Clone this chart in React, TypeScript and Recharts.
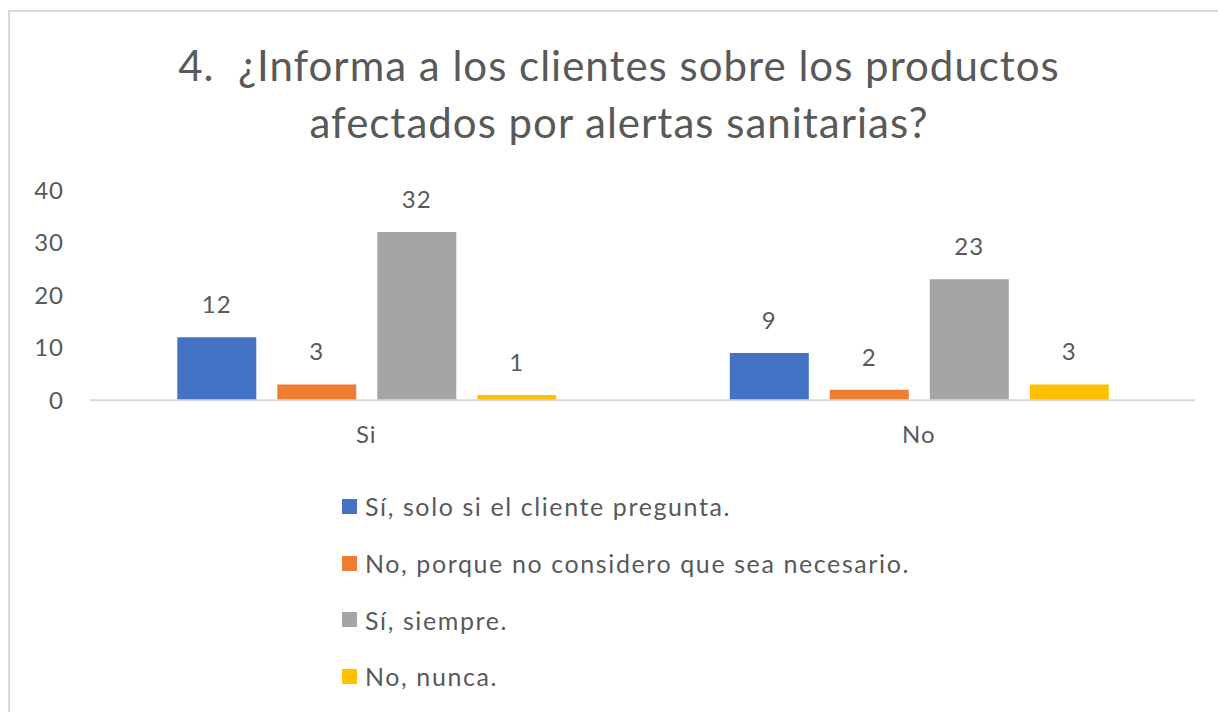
import React from 'react';
import { BarChart, Bar, XAxis, YAxis, LabelList, Legend } from 'recharts';

const categories = ['Si', 'No'];
const soloSiPregunta = [12, 9];
const noNecesario = [3, 2];
const siempre = [32, 23];
const nunca = [1, 3];
const yTicks = [0, 10, 20, 30, 40];

const seriesNames = [
  'Sí, solo si el cliente pregunta.',
  'No, porque no considero que sea necesario.',
  'Sí, siempre.',
  'No, nunca.',
];
const seriesColors = ['#4472C4', '#ED7D31', '#A5A5A5', '#FFC000'];

const data = categories.map((name, i) => ({
  name,
  s0: soloSiPregunta[i],
  s1: noNecesario[i],
  s2: siempre[i],
  s3: nunca[i],
}));

const FONT = 'Lato, "Open Sans", sans-serif';
const TEXT = '#595959';

const LegendList = () => (
  <div style={{ fontFamily: FONT, fontSize: 25, letterSpacing: 1.6, color: TEXT }}>
    {seriesNames.map((n, i) => (
      <div key={n} style={{ display: 'flex', alignItems: 'center', height: 56.7 }}>
        <span style={{ width: 15, height: 15, background: seriesColors[i], marginRight: 8, flexShrink: 0 }} />
        <span>{n}</span>
      </div>
    ))}
  </div>
);

const tickStyle = { fill: TEXT, fontSize: 24, fontFamily: FONT, letterSpacing: 1 };

export default function App() {
  // fixed frame so nothing overflows the window
  return (
    <div style={{ position: 'fixed', left: 0, top: 0, width: 1218, height: 712, overflow: 'hidden', background: '#fff' }}>
      <div
        style={{
          position: 'absolute',
          left: 8,
          top: 10,
          width: 1240,
          height: 740,
          border: '2px solid #d9d9d9',
          boxSizing: 'border-box',
        }}
      />
      <div
        style={{
          position: 'absolute',
          left: 8,
          top: 37,
          width: 1222,
          textAlign: 'center',
          fontFamily: FONT,
          fontSize: 42,
          letterSpacing: 1,
          lineHeight: '57px',
          color: TEXT,
        }}
      >
        4.&nbsp; ¿Informa a los clientes sobre los productos
        <br />
        afectados por alertas sanitarias?
      </div>
      <BarChart
        width={1210}
        height={696}
        data={data}
        margin={{ top: 182, right: 23, left: 0, bottom: 0 }}
        barCategoryGap="15.8%"
        barGap={21}
        style={{ position: 'absolute', left: 8, top: 8 }}
      >
        <XAxis
          dataKey="name"
          axisLine={{ stroke: '#d9d9d9', strokeWidth: 2 }}
          tickLine={false}
          tick={tickStyle}
          tickMargin={20}
          height={77}
        />
        <YAxis
          domain={[0, 40]}
          ticks={yTicks}
          axisLine={false}
          tickLine={false}
          tick={tickStyle}
          tickMargin={20}
          width={82}
        />
        <Legend
          content={<LegendList />}
          layout="vertical"
          verticalAlign="bottom"
          wrapperStyle={{ left: 334, top: 470, width: 700 }}
        />
        {['s0', 's1', 's2', 's3'].map((k, i) => (
          <Bar key={k} dataKey={k} name={seriesNames[i]} fill={seriesColors[i]} isAnimationActive={false}>
            <LabelList dataKey={k} position="top" offset={24} fill={TEXT} fontSize={24} fontFamily={FONT} letterSpacing={1} />
          </Bar>
        ))}
      </BarChart>
    </div>
  );
}
